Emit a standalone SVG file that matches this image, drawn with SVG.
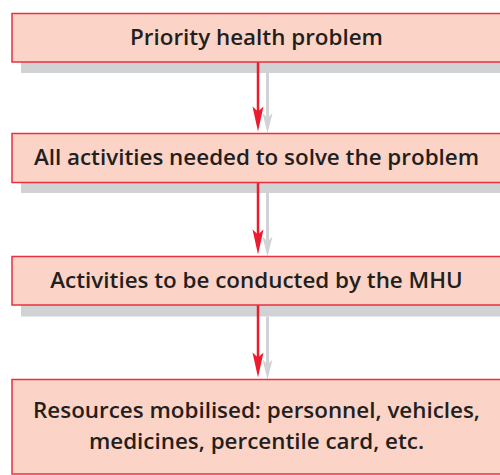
<svg xmlns="http://www.w3.org/2000/svg" width="500" height="475" viewBox="0 0 500 475">
  <style>
    .box { fill: #fcd4c7; stroke: #e8303f; stroke-width: 1.5; }
    .shadow { fill: #d1d2d4; }
    .label { font-family: "Open Sans", "Liberation Sans", sans-serif; font-weight: 600; font-size: 22.4px; fill: #231f20; text-anchor: middle; }
    .flow { stroke: #ec1c2e; stroke-width: 2.5; fill: none; marker-end: url(#head-red); }
    .flow-shadow { stroke: #d1d2d4; stroke-width: 3; fill: none; marker-end: url(#head-grey); }
  </style>
  <defs>
    <marker id="head-red" markerUnits="userSpaceOnUse" orient="auto" refX="0" refY="0" markerWidth="30" markerHeight="14" viewBox="-18 -7 30 14" overflow="visible">
      <path d="M8,0 L-17,-5.5 L-12,0 L-17,5.5 Z" fill="#ec1c2e"/>
    </marker>
    <marker id="head-grey" markerUnits="userSpaceOnUse" orient="auto" refX="0" refY="0" markerWidth="30" markerHeight="14" viewBox="-18 -7 30 14" overflow="visible">
      <path d="M8,0 L-12,-5 L-7,0 L-12,5 Z" fill="#d1d2d4"/>
    </marker>
  </defs>

  <!-- drop shadows under the boxes -->
  <rect class="shadow" x="21" y="62" width="485" height="11"/>
  <rect class="shadow" x="21" y="182.5" width="485" height="10.5"/>
  <rect class="shadow" x="21" y="305" width="485" height="11.5"/>

  <!-- connectors: grey shadow arrow plus red arrow -->
  <g id="connectors">
    <path class="flow-shadow" d="M267.5,73 V125"/>
    <path class="flow" d="M258,62 V123.5"/>
    <path class="flow-shadow" d="M267.5,193 V248.5"/>
    <path class="flow" d="M258,182.5 V246.5"/>
    <path class="flow-shadow" d="M267.5,316.5 V371.5"/>
    <path class="flow" d="M258,305 V369.5"/>
  </g>

  <g id="priority">
    <rect class="box" x="12" y="13.5" width="500" height="48.5"/>
    <text class="label" x="256.5" y="45">Priority health problem</text>
  </g>

  <g id="all-activities">
    <rect class="box" x="12" y="133.5" width="500" height="49"/>
    <text class="label" x="256.5" y="165">All activities needed to solve the problem</text>
  </g>

  <g id="mhu-activities">
    <rect class="box" x="12" y="256.5" width="500" height="48.5"/>
    <text class="label" x="256.5" y="288">Activities to be conducted by the MHU</text>
  </g>

  <g id="resources">
    <rect class="box" x="12" y="379.5" width="500" height="94.5"/>
    <text class="label" x="256.5" y="418">Resources mobilised: personnel, vehicles,</text>
    <text class="label" x="256.5" y="449">medicines, percentile card, etc.</text>
  </g>
</svg>
